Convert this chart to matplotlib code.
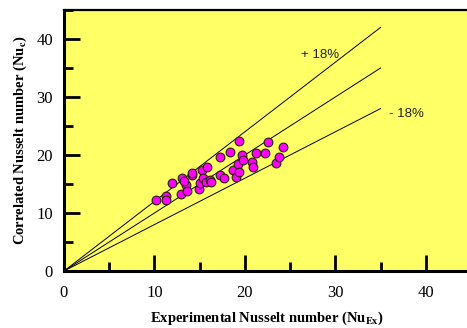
import matplotlib.pyplot as plt
from matplotlib.ticker import MultipleLocator

# experimental vs correlated Nusselt numbers
nu_exp = [10.2, 11.25, 11.25, 11.9, 12.9, 13.1, 13.5, 13.6, 13.3, 14.1, 14.2,
          14.9, 15.0, 15.3, 15.4, 15.7, 15.85, 16.15, 16.3, 17.3, 17.3, 17.7,
          18.4, 18.7, 19.0, 19.2, 19.3, 19.4, 19.7, 19.8, 20.8, 20.9, 21.2,
          22.2, 22.5, 23.4, 23.8, 24.2]
nu_corr = [12.2, 12.9, 12.2, 15.1, 13.25, 16.0, 14.8, 13.8, 15.5, 16.5, 16.9,
           14.1, 15.1, 17.4, 16.0, 15.4, 18.0, 15.7, 15.4, 19.7, 16.5, 16.0,
           20.5, 17.5, 16.2, 18.5, 22.4, 17.0, 20.0, 19.1, 18.8, 18.0, 20.4,
           20.3, 22.3, 18.7, 19.6, 21.3]

# reference lines: perfect agreement and +/- 18 % band
line_x = [0, 35]
line_slopes = [1.2, 1.0, 0.8]
band_labels = ["+ 18%", "- 18%"]

plt.rcParams["mathtext.fontset"] = "stix"

fig = plt.figure(figsize=(4.67, 3.28), dpi=100)
ax = fig.add_axes([64 / 467, 57 / 328, 407 / 467, 261 / 328])
ax.set_facecolor("#FFFF66")

for s in line_slopes:
    ax.plot(line_x, [s * v for v in line_x], color="black", lw=0.7, zorder=2)

ax.plot(nu_exp, nu_corr, "o", ms=6.3, mfc="#FF00FF", mec="#222200",
        mew=0.8, zorder=3)

ax.text(28.3, 37.2, band_labels[0], fontsize=9.5, family="Liberation Sans",
        ha="center", va="center", color="#222222")
ax.text(37.9, 27.0, band_labels[1], fontsize=9.5, family="Liberation Sans",
        ha="center", va="center", color="#222222")

ax.set_xlim(0, 45)
ax.set_ylim(0, 45)
ax.xaxis.set_major_locator(MultipleLocator(10))
ax.xaxis.set_minor_locator(MultipleLocator(5))
ax.yaxis.set_major_locator(MultipleLocator(10))
ax.yaxis.set_minor_locator(MultipleLocator(5))
ax.tick_params(which="major", direction="in", length=11.5, width=2,
               labelsize=12)
ax.tick_params(axis="x", which="major", pad=10)
ax.tick_params(axis="y", which="major", pad=8)
ax.tick_params(which="minor", direction="in", length=6.5, width=2)
for lab in ax.get_xticklabels() + ax.get_yticklabels():
    lab.set_family("Liberation Serif")

ax.spines["left"].set_linewidth(2.2)
ax.spines["bottom"].set_linewidth(2.2)
ax.spines["top"].set_linewidth(1.6)
ax.spines["right"].set_linewidth(1.6)

ax.set_xlabel(r"Experimental Nusselt number (Nu$_{\mathbf{Ex}}$)",
              family="Liberation Serif", fontweight="bold", fontsize=10.5,
              labelpad=6)
ax.set_ylabel(r"Correlated Nusselt number (Nu$_{\mathbf{c}}$)",
              family="Liberation Serif", fontweight="bold", fontsize=10.5,
              labelpad=5)

fig.savefig("out.png", dpi=100)
